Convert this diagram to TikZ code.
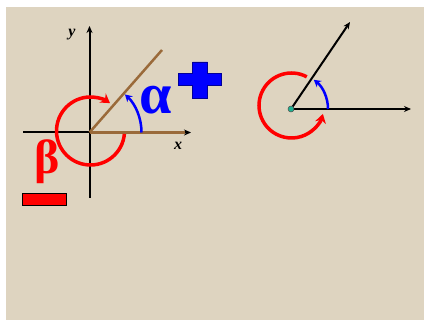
\documentclass[tikz,border=0pt]{standalone}
\usepackage{fontspec}
\setmainfont{Liberation Serif}
\usetikzlibrary{arrows.meta}
\definecolor{bg}{HTML}{DED4C0}
\definecolor{brownray}{HTML}{9A6A3A}
\definecolor{dotc}{HTML}{20B090}
\tikzset{
  axis/.style={line width=2pt, black, -{Stealth[length=7pt,width=6pt]}},
  redarc/.style={line width=3.5pt, red, -{Stealth[length=9pt,width=11pt]}},
  bluearc/.style={line width=2.5pt, blue, -{Stealth[length=7pt,width=8pt]}},
  lbl/.style={font=\bfseries\itshape\fontsize{16}{16}\selectfont, inner sep=0pt}
}
\begin{document}
\begin{tikzpicture}[x=1pt,y=1pt]
\useasboundingbox (0,0) rectangle (425,-320);
\fill[white] (0,0) rectangle (425,-320);
\fill[bg] (6,-7) rectangle (424,-320);
% ---- left figure ----
\coordinate (O) at (89.5,-132.5);
\coordinate (xl) at (23,-132.5);
\coordinate (xr) at (191,-132.5);
\coordinate (yb) at (89.5,-198);
\coordinate (yt) at (89.5,-26);
\coordinate (rayend) at (162,-50);
\draw[axis] (yb) -- (yt);
\draw[axis] (xl) -- (xr);
\draw[line width=2.5pt, brownray] (O) -- (185,-132.5);
\draw[line width=2.5pt, brownray] (O) -- (rayend);
\node[lbl] (ylab) at (72,-35) {y};
\node[lbl] (xlab) at (178,-146) {x};
\draw[bluearc] (O) ++(0:52) arc[start angle=0,end angle=47,radius=52];
\coordinate (rc) at (90.5,-131);
\draw[redarc] (rc) ++(-5:34) arc[start angle=-5,end angle=-305,radius=34];
\node[blue, inner sep=0pt, font=\bfseries\fontsize{58}{58}\selectfont] (alpha) at (156,-100) {α};
\node[red, inner sep=0pt, font=\bfseries\fontsize{48}{48}\selectfont] (beta) at (47,-162) {β};
% plus sign
\fill[blue, draw=blue!60!black, line width=0.4pt]
  (192.5,-62) -- (207.5,-62) -- (207.5,-73.5) -- (221,-73.5) -- (221,-85.5) -- (207.5,-85.5)
  -- (207.5,-98) -- (192.5,-98) -- (192.5,-85.5) -- (178,-85.5) -- (178,-73.5) -- (192.5,-73.5) -- cycle;
% minus sign
\node[fill=red, draw=black, line width=0.6pt, minimum width=44pt, minimum height=12pt, inner sep=0pt] (minus) at (44,-199) {};
% ---- right figure ----
\coordinate (V) at (291,-109);
\coordinate (hend) at (411,-109);
\coordinate (tend) at (350,-22);
\draw[axis] (V) -- (hend);
\draw[axis] (V) -- (tend);
\draw[bluearc] (V) ++(0:37) arc[start angle=0,end angle=52,radius=37];
\coordinate (rc2) at (291.5,-105.5);
\draw[redarc] (rc2) ++(62:32.5) arc[start angle=62,end angle=345,radius=32.5];
\node[circle, fill=dotc, draw=black!70, line width=0.5pt, minimum size=6pt, inner sep=0pt] (dot) at (V) {};
\end{tikzpicture}
\end{document}
